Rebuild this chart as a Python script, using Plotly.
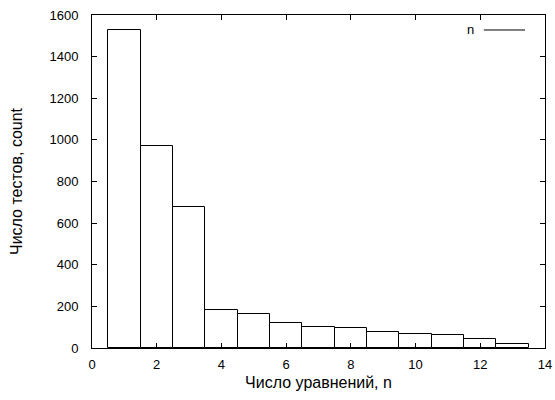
import plotly.graph_objects as go

n_values = list(range(1, 14))
counts = [1526, 972, 679, 185, 163, 120, 99, 96, 78, 65, 62, 45, 17]
x_ticks = [0, 2, 4, 6, 8, 10, 12, 14]
y_ticks = [0, 200, 400, 600, 800, 1000, 1200, 1400, 1600]

fig = go.Figure()
fig.add_trace(go.Bar(
    x=n_values, y=counts, width=1.0,
    marker=dict(color="white", line=dict(color="black", width=1)),
    showlegend=False, name="n",
))

axis_common = dict(
    showline=True, linecolor="black", linewidth=1, mirror="ticks",
    ticks="inside", ticklen=5, tickcolor="black", tickwidth=1,
    showgrid=False, zeroline=False,
    tickfont=dict(family="Liberation Sans, Arial, sans-serif", size=13, color="black"),
)

fig.update_layout(
    width=555, height=400,
    margin=dict(l=92, r=10, t=15, b=52, autoexpand=False),
    paper_bgcolor="white", plot_bgcolor="white",
    font=dict(family="Liberation Sans, Arial, sans-serif", size=13, color="black"),
    xaxis=dict(range=[0, 14], tickvals=x_ticks, ticklabelstandoff=4, automargin=False,
               title=dict(text="Число уравнений, n", standoff=6), **axis_common),
    yaxis=dict(range=[0, 1600], tickvals=y_ticks, ticklabelstandoff=10, automargin=False,
               title=dict(text="Число тестов, count", standoff=22), **axis_common),
    bargap=0,
    annotations=[dict(x=0.848, y=0.955, xref="paper", yref="paper", text="n",
                      showarrow=False, xanchor="right", yanchor="middle",
                      font=dict(size=13))],
    shapes=[dict(type="line", xref="paper", yref="paper",
                 x0=0.865, x1=0.956, y0=0.955, y1=0.955,
                 line=dict(color="black", width=1))],
)

fig.write_html("out.html")
